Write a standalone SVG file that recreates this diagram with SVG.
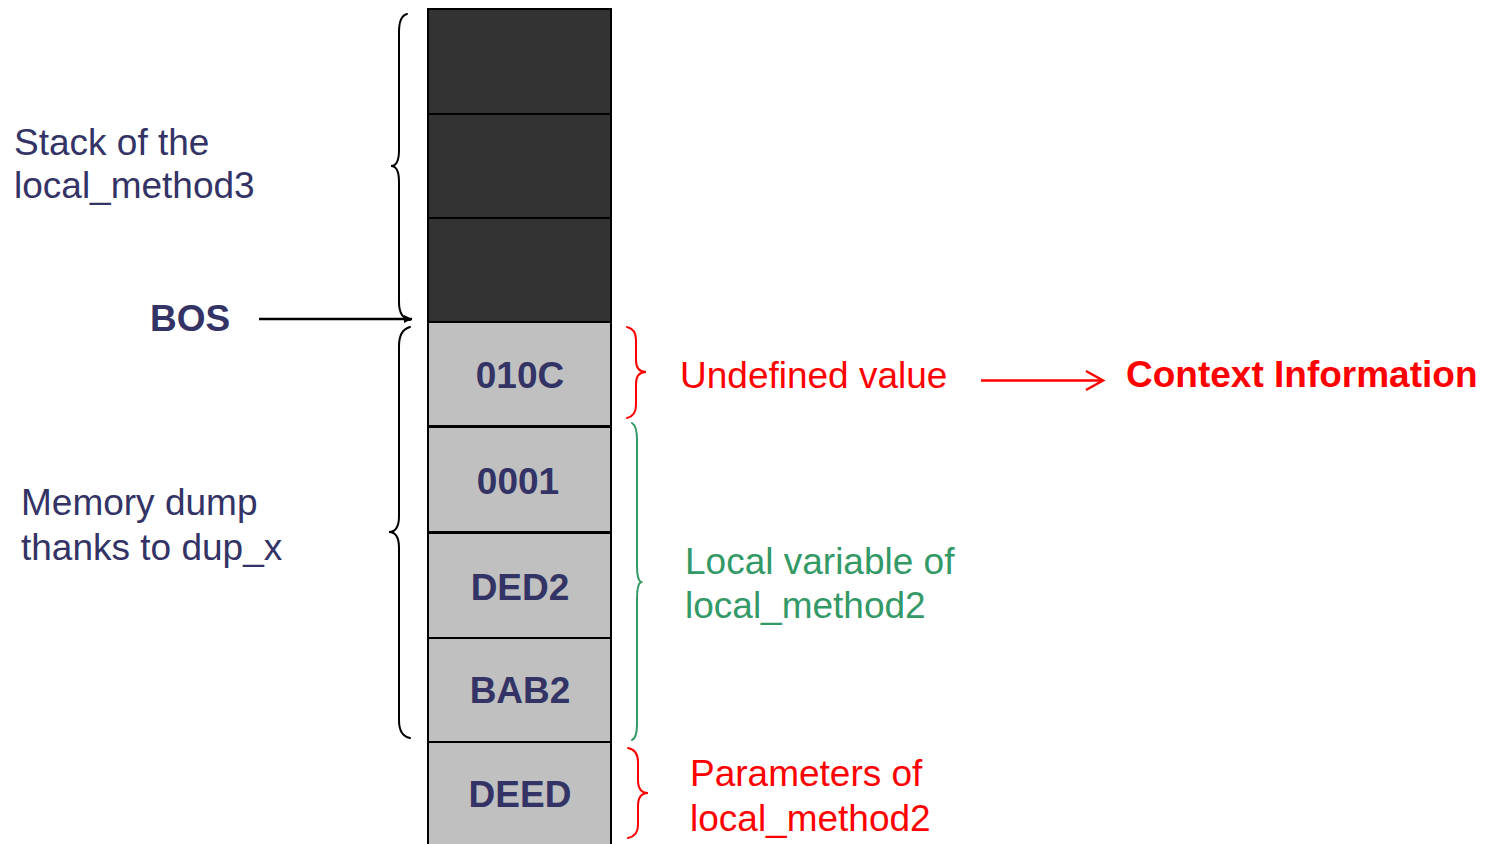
<svg xmlns="http://www.w3.org/2000/svg" width="1491" height="844" viewBox="0 0 1491 844">
  <style>
    .lbl { font-family: "Liberation Sans", Arial, sans-serif; font-size: 37px; }
    .navy { fill: #333366; }
    .red { fill: #FF0000; }
    .green { fill: #339966; }
    .cell-txt { font-family: "Liberation Sans", Arial, sans-serif; font-size: 37px; font-weight: bold; fill: #333366; text-anchor: middle; }
    .dark { fill: #333333; stroke: #000000; stroke-width: 2; }
    .light { fill: #C0C0C0; stroke: #000000; stroke-width: 2; }
    .brace { fill: none; stroke-width: 2; stroke-linecap: round; }
  </style>
  <defs>
    <marker id="arrowFilled" viewBox="0 0 10 10" refX="10" refY="5" markerWidth="8" markerHeight="8" markerUnits="userSpaceOnUse" orient="auto">
      <path d="M0,0 L10,5 L0,10 Z" fill="#000000"/>
    </marker>
  </defs>

  <!-- stack column: frames of local_method3 (dark) and dumped memory (grey) -->
  <g id="cell-top1"><rect class="dark" x="428" y="9" width="183" height="105"/></g>
  <g id="cell-top2"><rect class="dark" x="428" y="114" width="183" height="104"/></g>
  <g id="cell-top3"><rect class="dark" x="428" y="218" width="183" height="104"/></g>
  <g id="cell-010C">
    <rect class="light" x="428" y="322" width="183" height="104"/>
    <text class="cell-txt" x="520" y="388">010C</text>
  </g>
  <g id="cell-0001">
    <rect class="light" x="428" y="426" width="183" height="106"/>
    <text class="cell-txt" x="518" y="494">0001</text>
  </g>
  <g id="cell-DED2">
    <rect class="light" x="428" y="532" width="183" height="106"/>
    <text class="cell-txt" x="520" y="600">DED2</text>
  </g>
  <g id="cell-BAB2">
    <rect class="light" x="428" y="638" width="183" height="104"/>
    <text class="cell-txt" x="520" y="703">BAB2</text>
  </g>
  <g id="cell-DEED">
    <rect class="light" x="428" y="742" width="183" height="110"/>
    <text class="cell-txt" x="520" y="807">DEED</text>
  </g>
  <!-- heavier separators around 0001 -->
  <line x1="428" y1="426.5" x2="611" y2="426.5" stroke="#000" stroke-width="3"/>
  <line x1="428" y1="532.5" x2="611" y2="532.5" stroke="#000" stroke-width="3"/>

  <!-- braces -->
  <g id="braces">
    <path class="brace" stroke="#000000" d="M407,14 Q399,16 399,32 L399,150 Q399,166 391,166 Q399,166 399,182 L399,302 Q399,318 410,320"/>
    <path class="brace" stroke="#000000" d="M410,327 Q399,330 399,346 L399,516 Q399,532 389,532 Q399,532 399,548 L399,720 Q399,736 410,738"/>
    <path class="brace" stroke="#FF0000" d="M627,327 Q636,329 636,340 L636,360 Q636,372 646,372 Q636,372 636,384 L636,405 Q636,416 627,418"/>
    <path class="brace" stroke="#339966" d="M632,423 Q637,426 637,440 L637,566 Q637,580 641,582 Q637,584 637,598 L637,724 Q637,738 632,740"/>
    <path class="brace" stroke="#FF0000" d="M628,748 Q638,750 638,762 L638,780 Q638,793 648,793 Q638,793 638,806 L638,825 Q638,836 628,838"/>
  </g>

  <!-- connectors -->
  <g id="connectors">
    <line x1="259" y1="319" x2="412" y2="319" stroke="#000000" stroke-width="2.5" marker-end="url(#arrowFilled)"/>
    <line x1="981" y1="380.5" x2="1102" y2="380.5" stroke="#FF0000" stroke-width="2.5"/>
    <polyline points="1086,371 1103,380.5 1086,390" fill="none" stroke="#FF0000" stroke-width="2.5"/>
  </g>

  <!-- labels -->
  <g id="label-stack">
    <text class="lbl navy" x="14" y="155">Stack of the</text>
    <text class="lbl navy" x="14" y="198">local_method3</text>
  </g>
  <g id="label-bos">
    <text class="lbl navy" x="150" y="331" font-weight="bold">BOS</text>
  </g>
  <g id="label-dump">
    <text class="lbl navy" x="21" y="515">Memory dump</text>
    <text class="lbl navy" x="21" y="560">thanks to dup_x</text>
  </g>
  <g id="label-undefined">
    <text class="lbl red" x="680" y="388">Undefined value</text>
  </g>
  <g id="label-context">
    <text class="lbl red" x="1126" y="387" font-weight="bold">Context Information</text>
  </g>
  <g id="label-locals">
    <text class="lbl green" x="685" y="574">Local variable of</text>
    <text class="lbl green" x="685" y="618">local_method2</text>
  </g>
  <g id="label-params">
    <text class="lbl red" x="690" y="786">Parameters of</text>
    <text class="lbl red" x="690" y="831">local_method2</text>
  </g>
</svg>
